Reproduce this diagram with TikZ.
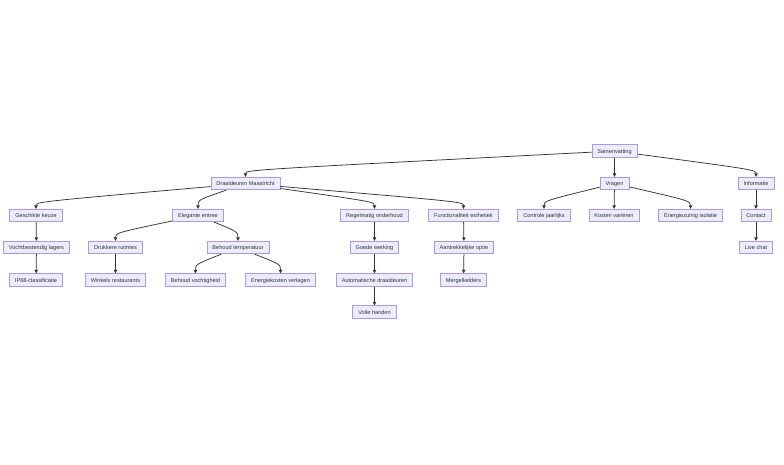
\documentclass[tikz,border=0pt]{standalone}
\usepackage{fontspec}
\setmainfont{Liberation Sans}
\usetikzlibrary{arrows.meta, calc}
\definecolor{boxfill}{HTML}{ECECFF}
\definecolor{boxline}{HTML}{AE98E6}
\definecolor{ink}{HTML}{333333}
\begin{document}
\begin{tikzpicture}[x=1pt, y=1pt,
    box/.style={draw=boxline, fill=boxfill, line width=0.7pt, text=ink,
      font=\fontsize{5.6}{6}\selectfont, inner xsep=5.5pt, inner ysep=0pt,
      text height=5.2pt, text depth=0.3pt, minimum height=12.5pt},
    edge/.style={draw=ink, line width=0.75pt, -{Triangle[length=3.5pt,width=3.4pt]}}]
    \useasboundingbox (0,0) rectangle (784,-464);
    % top levels
    \node[box] (sam) at (614.5,-151) {Samenvatting};
    \node[box] (dm) at (245.5,-183.5) {Draaideuren Maastricht};
    \node[box] (vr) at (614.5,-183.5) {Vragen};
    \node[box] (inf) at (756,-183.5) {Informatie};
    % third row
    \node[box] (gk) at (36,-215.5) {Geschikte keuze};
    \node[box] (ee) at (198,-215.5) {Elegante entree};
    \node[box] (ro) at (374.5,-215.5) {Regelmatig onderhoud};
    \node[box] (fe) at (463.5,-215.5) {Functionaliteit esthetiek};
    \node[box] (cj) at (544,-215.5) {Controle jaarlijks};
    \node[box] (kv) at (614,-215.5) {Kosten variëren};
    \node[box] (ei) at (690.5,-215.5) {Energiezuinig isolatie};
    \node[box] (con) at (756,-215.5) {Contact};
    % fourth row
    \node[box] (vl) at (36.5,-247.5) {Vochtbestendig lagers};
    \node[box] (dr) at (115.5,-247.5) {Drukkere ruimtes};
    \node[box] (bt) at (238,-247.5) {Behoud temperatuur};
    \node[box] (gw) at (374.5,-247.5) {Goede werking};
    \node[box] (ao) at (464,-247.5) {Aantrekkelijke optie};
    \node[box] (lc) at (756,-247.5) {Live chat};
    % fifth row
    \node[box] (ip) at (36,-280) {IP68-classificatie};
    \node[box] (wr) at (115.5,-280) {Winkels restaurants};
    \node[box] (bv) at (195.5,-280) {Behoud vochtigheid};
    \node[box] (ev) at (280.5,-280) {Energiekosten verlagen};
    \node[box] (ad) at (374.5,-280) {Automatische draaideuren};
    \node[box] (mk) at (463.5,-280) {Mergelkelders};
    \node[box] (vh) at (374.5,-312) {Volle handen};
    % connectors
    \draw[edge] (sam) .. controls ($(dm.north)+(0,7)$) .. (dm);
    \draw[edge] (sam) -- (vr);
    \draw[edge] (sam) .. controls ($(inf.north)+(0,7)$) .. (inf);
    \draw[edge] (dm) .. controls ($(gk.north)+(0,7)$) .. (gk);
    \draw[edge] (dm) .. controls ($(ee.north)+(0,9)$) .. (ee);
    \draw[edge] (dm) .. controls ($(ro.north)+(0,7)$) .. (ro);
    \draw[edge] (dm) .. controls ($(fe.north)+(0,7)$) .. (fe);
    \draw[edge] (vr) .. controls ($(cj.north)+(0,8)$) .. (cj);
    \draw[edge] (vr) -- (kv);
    \draw[edge] (vr) .. controls ($(ei.north)+(0,8)$) .. (ei);
    \draw[edge] (inf) -- (con);
    \draw[edge] (con) -- (lc);
    \draw[edge] (gk) -- (vl);
    \draw[edge] (vl) -- (ip);
    \draw[edge] (ee) .. controls ($(dr.north)+(0,8)$) .. (dr);
    \draw[edge] (ee) .. controls ($(bt.north)+(0,9)$) .. (bt);
    \draw[edge] (dr) -- (wr);
    \draw[edge] (bt) .. controls ($(bv.north)+(0,9)$) .. (bv);
    \draw[edge] (bt) .. controls ($(ev.north)+(0,9)$) .. (ev);
    \draw[edge] (ro) -- (gw);
    \draw[edge] (gw) -- (ad);
    \draw[edge] (ad) -- (vh);
    \draw[edge] (fe) -- (ao);
    \draw[edge] (ao) -- (mk);
  \end{tikzpicture}
\end{document}
